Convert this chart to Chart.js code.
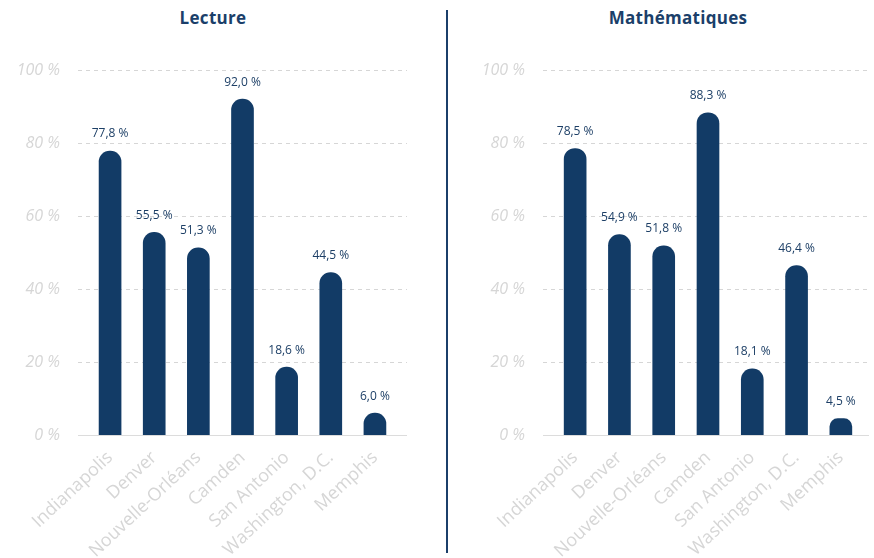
<!DOCTYPE html>
<html lang="fr">
<head>
<meta charset="UTF-8">
<title>Lecture et Mathématiques</title>
<script src="https://cdn.jsdelivr.net/npm/chart.js"></script>
<style>
  html, body { margin: 0; padding: 0; background: #fff; overflow: hidden; }
  body { width: 874px; height: 558px; position: relative; font-family: "Open Sans", sans-serif; }
  .titre { position: absolute; top: 6px; width: 300px; margin-left: -150px; text-align: center;
           font-size: 17px; font-weight: 700; color: #1b3f6a; letter-spacing: 0.3px; }
  .panneau { position: absolute; top: 0; height: 558px; }
  #separateur { position: absolute; left: 446px; top: 10px; width: 2px; height: 543px; background: #1b3f6a; }
</style>
</head>
<body>
  <div class="titre" style="left:213px">Lecture</div>
  <div class="titre" style="left:678px">Mathématiques</div>
  <div class="panneau" style="left:0; width:420px"><canvas id="graphLecture"></canvas></div>
  <div id="separateur"></div>
  <div class="panneau" style="left:452px; width:422px"><canvas id="graphMaths"></canvas></div>

<script>
// Villes (catégories)
const villes = ["Indianapolis", "Denver", "Nouvelle-Orléans", "Camden", "San Antonio", "Washington, D.C.", "Memphis"];
// Pourcentages
const lecture = [77.8, 55.5, 51.3, 92.0, 18.6, 44.5, 6.0];
const mathematiques = [78.5, 54.9, 51.8, 88.3, 18.1, 46.4, 4.5];
// Graduations de l'axe vertical
const graduations = [0, 20, 40, 60, 80, 100];

const bleu = "#123b66";
const gris = "#d6d6d6";

// format français : 77,8 %
const fmt = v => v.toFixed(1).replace(".", ",") + " %";

// lignes de grille pointillées qui dépassent un peu la zone des barres
const grillePlugin = {
  id: "grille",
  beforeDatasetsDraw(chart, args, opts) {
    const ctx = chart.ctx, y = chart.scales.y, a = chart.chartArea;
    ctx.save();
    ctx.lineWidth = 1;
    graduations.forEach(g => {
      const py = Math.round(y.getPixelForValue(g)) + 0.5;
      ctx.strokeStyle = g === 0 ? "#dcdcdc" : "#d6d6d6";
      ctx.setLineDash(g === 0 ? [] : [4, 4]);
      ctx.beginPath();
      ctx.moveTo(a.left - opts.gauche, py);
      ctx.lineTo(a.right + opts.droite, py);
      ctx.stroke();
    });
    ctx.restore();
  }
};

// étiquettes de valeur au-dessus des barres
const etiquettesPlugin = {
  id: "etiquettes",
  afterDatasetsDraw(chart) {
    const ctx = chart.ctx;
    const meta = chart.getDatasetMeta(0);
    const data = chart.data.datasets[0].data;
    ctx.save();
    ctx.font = "500 12px 'Open Sans'";
    ctx.fillStyle = "#1d3f66";
    ctx.textAlign = "center";
    ctx.textBaseline = "middle";
    meta.data.forEach((bar, i) => {
      ctx.fillText(fmt(data[i]), bar.x, bar.y - 17);
    });
    ctx.restore();
  }
};

function creerGraphique(id, valeurs, largeurAxe, padDroite, depassDroite) {
  new Chart(document.getElementById(id), {
    type: "bar",
    data: {
      labels: villes,
      datasets: [{
        data: valeurs,
        backgroundColor: bleu,
        barThickness: 22,
        borderRadius: { topLeft: 11, topRight: 11, bottomLeft: 0, bottomRight: 0 },
        borderSkipped: "start"
      }]
    },
    options: {
      responsive: true,
      maintainAspectRatio: false,
      animation: false,
      layout: { padding: { top: 70, right: padDroite, bottom: 0, left: 0 } },
      plugins: {
        legend: { display: false },
        tooltip: { enabled: false },
        grille: { gauche: 10, droite: depassDroite }
      },
      scales: {
        x: {
          grid: { display: false, drawTicks: false },
          border: { display: false },
          ticks: {
            autoSkip: false,
            minRotation: 43,
            maxRotation: 43,
            padding: 12,
            color: gris,
            font: { family: "Open Sans", size: 18 }
          },
          afterFit: s => { s.height = 123; }
        },
        y: {
          min: 0,
          max: 100,
          grid: { display: false, drawTicks: false },
          border: { display: false },
          afterBuildTicks: s => { s.ticks = graduations.map(v => ({ value: v })); },
          ticks: {
            padding: 28,
            color: gris,
            font: { family: "Open Sans", size: 16, style: "italic" },
            callback: v => v + " %"
          },
          afterFit: s => { s.width = largeurAxe; }
        }
      }
    },
    plugins: [grillePlugin, etiquettesPlugin]
  });
}

creerGraphique("graphLecture", lecture, 88, 23, 10);
creerGraphique("graphMaths", mathematiques, 101, 11, 6);
</script>
</body>
</html>
